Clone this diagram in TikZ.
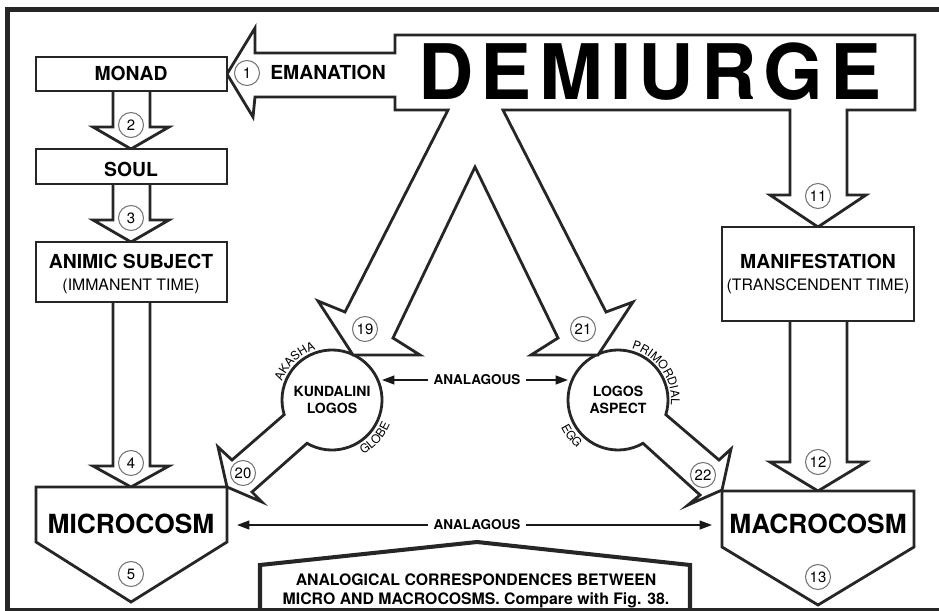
\documentclass[tikz,border=0pt]{standalone}
\usepackage{fontspec}
\setmainfont{TeX Gyre Heros}
\usetikzlibrary{arrows.meta,calc,decorations.text}

\begin{document}
\begin{tikzpicture}[x=0.02cm, y=0.02cm,
  outline/.style={draw=black!85, line width=1.6pt, fill=white, line join=miter},
  num node/.style={circle, draw=black!55, line width=0.6pt, fill=white, minimum size=0.5cm, inner sep=0pt, font=\fontsize{8.5}{9}\selectfont},
  label node/.style={anchor=base, inner sep=0pt, font=\fontsize{11}{12}\selectfont\bfseries},
  sub node/.style={anchor=base, inner sep=0pt, font=\fontsize{9}{10}\selectfont},
  cosm node/.style={anchor=base, inner sep=0pt, font=\fontsize{15}{16}\selectfont\bfseries},
  ball node/.style={circle, minimum size=2cm, inner sep=0pt, outer sep=0pt, align=center, font=\fontsize{8}{9.6}\selectfont\bfseries},
  ana node/.style={inner sep=3pt, font=\fontsize{7.7}{8}\selectfont\bfseries},
  ana arrow/.style={draw=black!90, line width=0.9pt, -{Triangle[length=7pt,width=5pt]}},
  arc text/.style={decorate, decoration={text along path, text align=center, text={|\fontsize{6.8}{7}\selectfont|#1}}}]
\useasboundingbox (0,0) rectangle (939,-611);

% the two spheres
\coordinate (klc) at (332,-400);
\coordinate (lac) at (618,-400);
\draw[outline] ($(klc)+(240:50)$) arc[start angle=240, end angle=557, radius=50]
  -- (232,-460) -- (218,-447) -- (227,-487) -- (262,-502) -- (252,-492) -- cycle;
\draw[outline] ($(lac)+(-17:50)$) arc[start angle=-17, end angle=300, radius=50]
  -- (700,-495) -- (688,-505) -- (722,-490) -- (731,-449) -- (719,-460) -- cycle;
\node[ball node] (kl) at (klc) {KUNDALINI\\LOGOS};
\node[ball node] (la) at (lac) {LOGOS\\ASPECT};
\path[arc text=AKASHA] ($(klc)+(166:53)$) arc[start angle=166, end angle=102, radius=53];
\path[arc text=GLOBE] ($(klc)+(-72:63)$) arc[start angle=-72, end angle=-11, radius=63];
\path[arc text=PRIMORDIAL] ($(lac)+(82:53)$) arc[start angle=82, end angle=-12, radius=53];
\path[arc text=EGG] ($(lac)+(192:63)$) arc[start angle=192, end angle=243, radius=63];

% demiurge with its arrows
\draw[outline] (395,-35) -- (915,-35) -- (915,-110) -- (847,-110) -- (847,-195) -- (866,-195)
  -- (818,-227) -- (770,-195) -- (790,-195) -- (790,-110) -- (503,-110) -- (606,-312)
  -- (633,-302) -- (598,-355) -- (531,-355) -- (558,-338) -- (475,-167) -- (393,-338)
  -- (420,-355) -- (353,-355) -- (318,-301) -- (345,-312) -- (448,-110) -- (395,-110)
  -- (395,-97) -- (255,-97) -- (253,-117) -- (227,-74) -- (255,-28) -- (255,-53)
  -- (395,-53) -- cycle;
\node[anchor=base, inner sep=0pt, font=\fontsize{43.6}{44}\selectfont\bfseries\addfontfeature{LetterSpace=9.5}] (dem) at (650,-100) {DEMIURGE};
\node[label node] (eman) at (328,-80) {EMANATION};

% left column
\draw[outline] (113,-91) -- (113,-127) -- (93,-127) -- (131,-149) -- (169,-127) -- (150,-127) -- (150,-91);
\draw[outline] (113,-184) -- (113,-220) -- (93,-220) -- (131,-242) -- (169,-220) -- (150,-220) -- (150,-184);
\draw[outline] (113,-302) -- (113,-466) -- (93,-466) -- (131,-487) -- (169,-466) -- (150,-466) -- (150,-302);
\draw[outline] (36,-57) rectangle (227,-91);
\draw[outline] (36,-149) rectangle (227,-184);
\draw[outline] (36,-242) rectangle (227,-302);
\draw[outline] (36,-487) -- (227,-487) -- (227,-542) -- (131,-602) -- (36,-542) -- cycle;
\node[label node] (monad) at (131,-81) {MONAD};
\node[label node] (soul) at (131,-176) {SOUL};
\node[label node] (animic) at (131,-268) {ANIMIC SUBJECT};
\node[sub node] (imm) at (131,-290) {(IMMANENT TIME)};
\node[cosm node] (micro) at (131,-533) {MICROCOSM};

% right column
\draw[outline] (790,-321) -- (790,-462) -- (770,-462) -- (818,-491) -- (866,-462) -- (847,-462) -- (847,-321);
\draw[outline] (722,-227) rectangle (914,-321);
\draw[outline] (722,-491) -- (914,-491) -- (914,-547) -- (818,-605) -- (722,-547) -- cycle;
\node[label node] (manif) at (818,-268) {MANIFESTATION};
\node[sub node] (trans) at (818,-290) {(TRANSCENDENT TIME)};
\node[cosm node] (macro) at (818,-533) {MACROCOSM};

% numbers
\node[num node] (n1) at (247,-73) {1};
\node[num node] (n2) at (131,-125) {2};
\node[num node] (n3) at (131,-218) {3};
\node[num node] (n4) at (131,-463) {4};
\node[num node] (n5) at (131,-574) {5};
\node[num node] (n11) at (818,-196) {11};
\node[num node] (n12) at (818,-462) {12};
\node[num node] (n13) at (818,-577) {13};
\node[num node] (n19) at (365,-329) {19};
\node[num node] (n20) at (243,-473) {20};
\node[num node] (n21) at (583,-329) {21};
\node[num node] (n22) at (703,-475) {22};

% analogies
\node[ana node] (ana1) at (477,-380) {ANALAGOUS};
\node[ana node] (ana2) at (477,-525) {ANALAGOUS};
\coordinate (micR) at (237,-525);
\coordinate (macL) at (712,-525);
\draw[ana arrow] (ana1.west) -- (ana1.west -| kl.east);
\draw[ana arrow] (ana1.east) -- (ana1.east -| la.west);
\draw[ana arrow] (ana2.west) -- (micR);
\draw[ana arrow] (ana2.east) -- (macL);

% caption
\draw[draw=black!85, line width=2.3pt, line join=miter] (260,-611) -- (260,-565) -- (477,-542) -- (690,-565) -- (690,-611);
\node[anchor=base, inner sep=0pt, font=\fontsize{9}{10}\selectfont\bfseries] (cap1) at (476,-585) {ANALOGICAL CORRESPONDENCES BETWEEN};
\node[anchor=base, inner sep=0pt, font=\fontsize{9}{10}\selectfont\bfseries] (cap2) at (476,-604) {MICRO AND MACROCOSMS. Compare with Fig. 38.};

% frame
\draw[draw=black!85, line width=2.5pt] (939,-9.5) -- (7.5,-9.5) -- (7.5,-611);
\draw[draw=black!85, line width=1.2pt] (7.5,-609.5) -- (939,-609.5);
\end{tikzpicture}
\end{document}
